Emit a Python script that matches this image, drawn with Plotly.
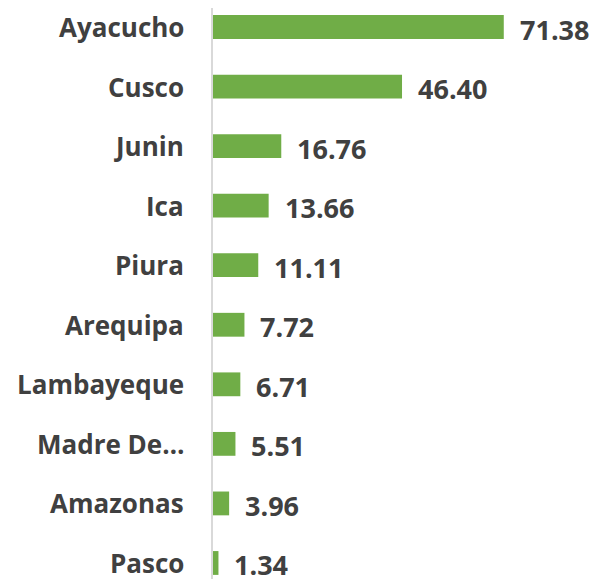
import plotly.graph_objects as go

regions = ["Ayacucho", "Cusco", "Junin", "Ica", "Piura", "Arequipa",
           "Lambayeque", "Madre De…", "Amazonas", "Pasco"]
values = [71.38, 46.40, 16.76, 13.66, 11.11, 7.72, 6.71, 5.51, 3.96, 1.34]

pos = list(range(len(regions)))
text_color = "#404040"
font_family = "'Open Sans', sans-serif"

fig = go.Figure()
fig.add_trace(go.Bar(
    x=values, y=pos, orientation="h",
    marker=dict(color="#70AD47", line=dict(width=0)),
    width=0.4,
    hoverinfo="skip",
))

for v, p in zip(values, pos):
    fig.add_annotation(x=v, y=p, text=f"{v:.2f}", showarrow=False,
                       xanchor="left", yanchor="middle", xshift=14, yshift=-2,
                       font=dict(family=font_family, size=27, color=text_color, weight="bold"))

for name, p in zip(regions, pos):
    fig.add_annotation(x=0, xref="paper", y=p, yref="y", text=name, showarrow=False,
                       xanchor="right", yanchor="middle", xshift=-27, yshift=0,
                       font=dict(family=font_family, size=26, color=text_color, weight="bold"))

fig.update_layout(
    width=592, height=571,
    margin=dict(l=205, r=0, t=0, b=0, autoexpand=False),
    paper_bgcolor="white", plot_bgcolor="white",
    showlegend=False,
    xaxis=dict(range=[0, 95], visible=False, showgrid=False, zeroline=False, automargin=False),
    yaxis=dict(
        range=[9.269, -0.319],
        showticklabels=False,
        showgrid=False, zeroline=False, automargin=False,
        showline=True, linecolor="#D9D9D9", linewidth=2,
        ticks="",
    ),
)

fig.write_html("out.html")
